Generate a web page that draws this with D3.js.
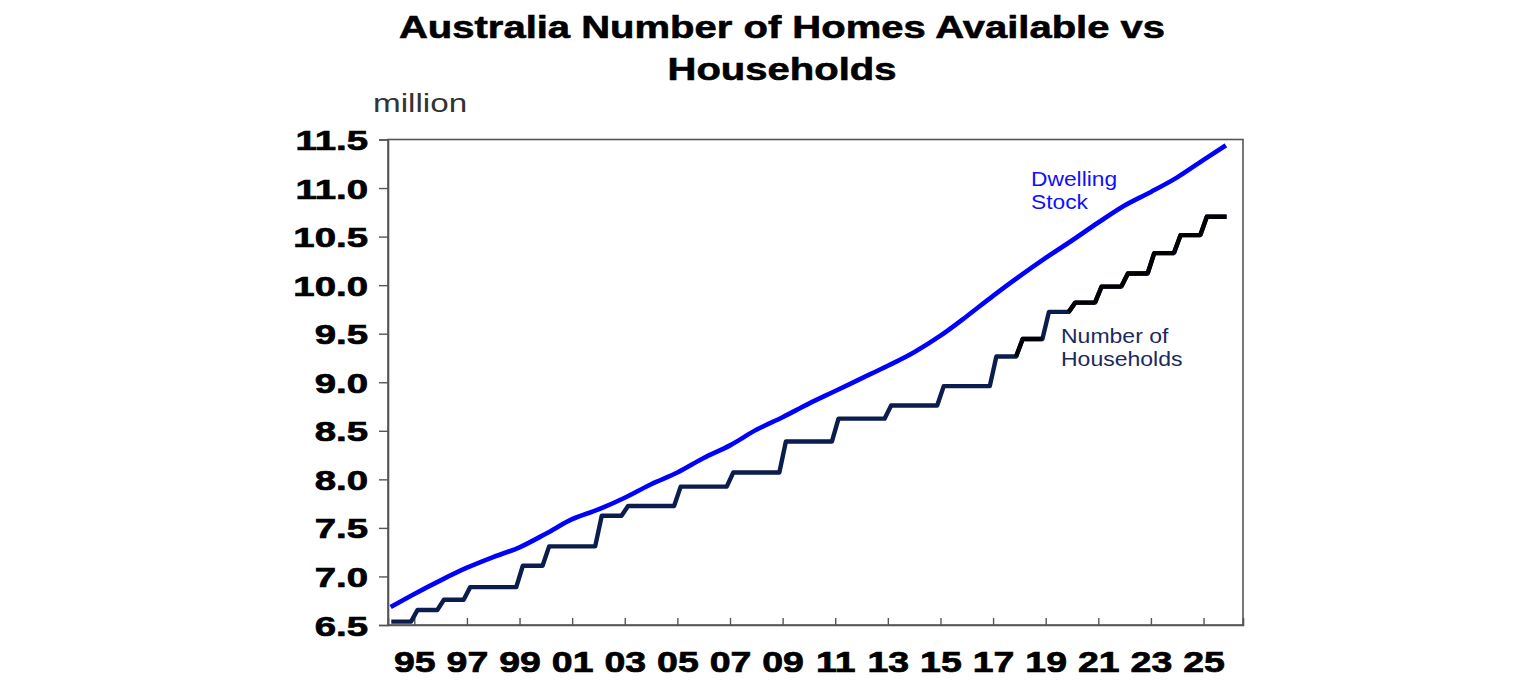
<!DOCTYPE html>
<html>
<head>
<meta charset="utf-8">
<script src="https://cdn.jsdelivr.net/npm/d3@7"></script>
<style>
  body { margin: 0; background: #fff; }
  svg { display: block; font-family: "Liberation Sans", Arial, sans-serif; }
</style>
</head>
<body>
<svg id="chart" width="1536" height="680"></svg>
<script>
// dwelling stock (year, million)
let dwellingYears = [1994.1, 1995, 1996, 1997, 1998, 1999, 2000, 2001, 2002, 2003, 2004,
  2005, 2006, 2007, 2008, 2009, 2010, 2011, 2012, 2013, 2014, 2015, 2016, 2017, 2018,
  2019, 2020, 2021, 2022, 2023, 2024, 2025, 2025.85]
let dwellingValues = [6.685, 6.82, 6.96, 7.09, 7.20, 7.30, 7.44, 7.59, 7.69, 7.81, 7.95,
  8.07, 8.22, 8.35, 8.51, 8.64, 8.78, 8.91, 9.04, 9.17, 9.31, 9.48, 9.68, 9.89, 10.09,
  10.28, 10.46, 10.645, 10.82, 10.96, 11.11, 11.29, 11.44]

// number of households, one level per year (steps)
let householdYears = [1994, 1995, 1996, 1997, 1998, 1999, 2000, 2001, 2002, 2003, 2004,
  2005, 2006, 2007, 2008, 2009, 2010, 2011, 2012, 2013, 2014, 2015, 2016, 2017, 2018,
  2019, 2020, 2021, 2022, 2023, 2024, 2025]
let householdValues = [6.535, 6.655, 6.76, 6.89, 6.89, 7.11, 7.31, 7.31, 7.625, 7.725, 7.725,
  7.925, 7.925, 8.07, 8.07, 8.39, 8.39, 8.625, 8.625, 8.76, 8.76, 8.96, 8.96, 9.265, 9.445,
  9.725, 9.82, 9.985, 10.12, 10.33, 10.515, 10.705]
// years where the households line is drawn black instead of navy
let blackYears = [2018, 2020, 2021, 2022, 2023, 2024, 2025]

let yTicks = [6.5, 7.0, 7.5, 8.0, 8.5, 9.0, 9.5, 10.0, 10.5, 11.0, 11.5]
let xTicks = [1995, 1997, 1999, 2001, 2003, 2005, 2007, 2009, 2011, 2013, 2015, 2017, 2019, 2021, 2023, 2025]

let margin = { top: 139.5, right: 1243, bottom: 625, left: 388 }

let svg = d3.select('#chart')

let x = d3.scaleLinear().domain([1994, 2026.5]).range([margin.left, margin.right])
let y = d3.scaleLinear().domain([6.5, 11.5]).range([margin.bottom, margin.top])

// title
let title = svg.append('g').attr('font-weight', 'bold').attr('font-size', 32)
  .attr('fill', '#000').attr('stroke', '#000').attr('stroke-width', 0.6)
title.append('text').attr('transform', 'translate(782,38) scale(1.25,1)')
  .attr('text-anchor', 'middle').text('Australia Number of Homes Available vs')
title.append('text').attr('transform', 'translate(782,80) scale(1.25,1)')
  .attr('text-anchor', 'middle').text('Households')

svg.append('text')
  .attr('transform', 'translate(373,112) scale(1.33,1)')
  .attr('font-size', 25).attr('fill', '#333')
  .text('million')

// frame
svg.append('rect')
  .attr('x', margin.left).attr('y', margin.top)
  .attr('width', margin.right - margin.left).attr('height', margin.bottom - margin.top)
  .attr('fill', 'none').attr('stroke', '#555').attr('stroke-width', 1.6)

// y axis
let yAxis = svg.append('g')
  .attr('transform', 'translate(' + margin.left + ',0)')
  .call(d3.axisLeft(y).tickValues(yTicks).tickSize(9).tickFormat(d3.format('.1f')))
yAxis.select('.domain').attr('stroke', '#555').attr('stroke-width', 1.6)
yAxis.selectAll('.tick line').attr('stroke', '#555').attr('stroke-width', 1.4)
yAxis.selectAll('.tick text')
  .attr('x', 0).attr('y', 0).attr('dy', null)
  .attr('transform', 'translate(-20,10) scale(1.37,1)')
  .attr('text-anchor', 'end')
  .attr('font-size', 28).attr('font-weight', 'bold').attr('fill', '#000')
  .attr('stroke', '#000').attr('stroke-width', 0.7)
  .attr('font-family', '"Liberation Sans", Arial, sans-serif')

// x axis, ticks point inward
let xAxis = svg.append('g')
  .attr('transform', 'translate(0,' + margin.bottom + ')')
  .call(d3.axisBottom(x).tickValues(xTicks).tickSize(-7)
    .tickFormat(d => String(d).slice(2)))
xAxis.select('.domain').attr('stroke', '#555').attr('stroke-width', 1.6)
xAxis.selectAll('.tick line').attr('stroke', '#555').attr('stroke-width', 1.4)
xAxis.selectAll('.tick text')
  .attr('y', 0).attr('dy', null)
  .attr('transform', 'translate(0,47) scale(1.25,1)')
  .attr('font-size', 30).attr('font-weight', 'bold').attr('fill', '#000')
  .attr('stroke', '#000').attr('stroke-width', 0.7)
  .attr('font-family', '"Liberation Sans", Arial, sans-serif')

// dwelling stock line
let dwellingData = dwellingYears.map((t, i) => ({ t: t, v: dwellingValues[i] }))
let line = d3.line().x(d => x(d.t)).y(d => y(d.v)).curve(d3.curveMonotoneX)

svg.append('path')
  .datum(dwellingData)
  .attr('d', line)
  .attr('fill', 'none').attr('stroke', '#0000ff').attr('stroke-width', 4.6)
  .attr('stroke-linejoin', 'round')

// households: each year level runs from Q1 to Q4 mid-points, ramps between years
let stepLine = d3.line().x(d => x(d.t)).y(d => y(d.v))
let stepPoints = []
householdYears.forEach((yr, i) => {
  stepPoints.push({ t: yr + 0.125, v: householdValues[i] })
  stepPoints.push({ t: yr + 0.875, v: householdValues[i] })
})

svg.append('path')
  .datum(stepPoints)
  .attr('d', stepLine)
  .attr('fill', 'none').attr('stroke', '#0b1d4d').attr('stroke-width', 4.4)
  .attr('stroke-linejoin', 'round')

blackYears.forEach(yr => {
  let i = householdYears.indexOf(yr)
  let seg = [
    { t: yr - 1 + 0.875, v: householdValues[i - 1] },
    { t: yr + 0.125, v: householdValues[i] },
    { t: yr + 0.875, v: householdValues[i] }
  ]
  svg.append('path')
    .datum(seg)
    .attr('d', stepLine)
    .attr('fill', 'none').attr('stroke', '#000').attr('stroke-width', 4.4)
    .attr('stroke-linejoin', 'round')
})

// series labels
let dLabel = svg.append('g').attr('font-size', 20).attr('fill', '#1010ff')
dLabel.append('text').attr('transform', 'translate(1031,186) scale(1.14,1)').text('Dwelling')
dLabel.append('text').attr('transform', 'translate(1031,209) scale(1.14,1)').text('Stock')

let hLabel = svg.append('g').attr('font-size', 20).attr('fill', '#1b2a5c')
hLabel.append('text').attr('transform', 'translate(1061,343) scale(1.15,1)').text('Number of')
hLabel.append('text').attr('transform', 'translate(1061,366) scale(1.15,1)').text('Households')
</script>
</body>
</html>
